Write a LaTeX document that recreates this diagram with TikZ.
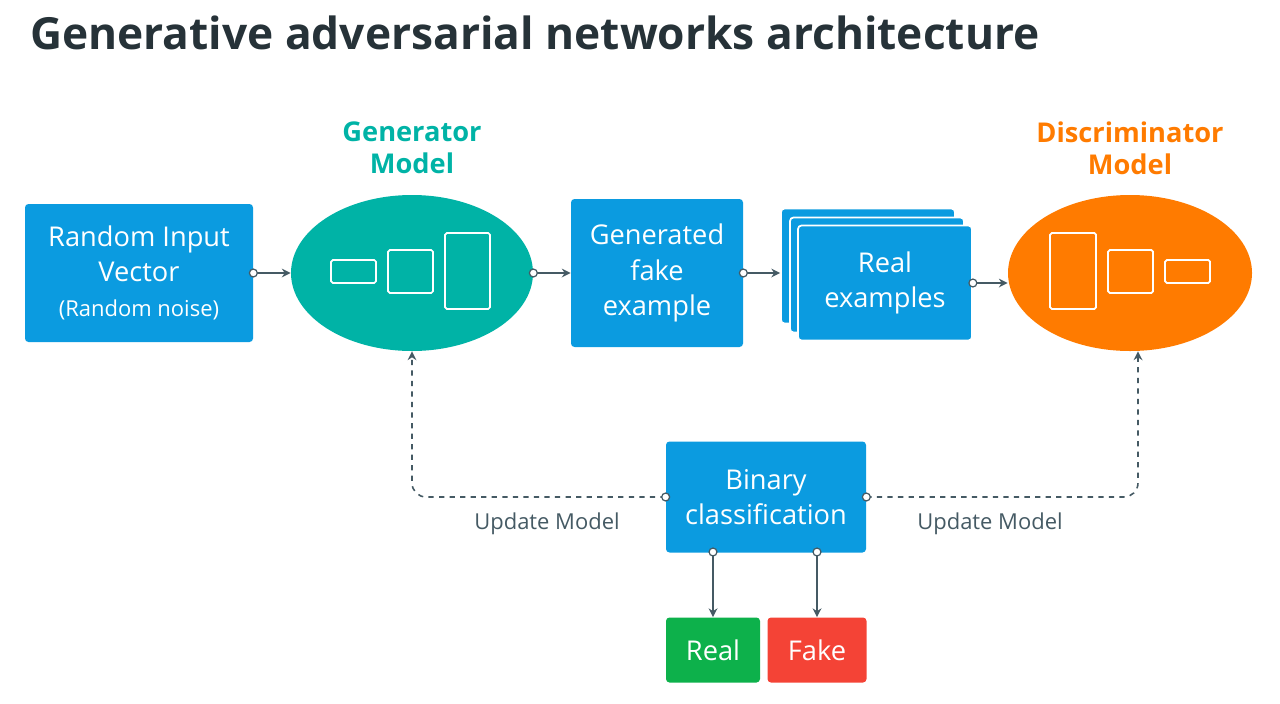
\documentclass[tikz,border=0pt]{standalone}
\usepackage{fontspec}
\setmainfont{Open Sans}
\usetikzlibrary{shapes.geometric,arrows.meta}
\definecolor{bl}{HTML}{0B9BE0}
\definecolor{tl}{HTML}{00B3A6}
\definecolor{og}{HTML}{FF7B00}
\definecolor{dk}{HTML}{263238}
\definecolor{ln}{HTML}{455A64}
\definecolor{gr}{HTML}{0DB14B}
\definecolor{rd}{HTML}{F44336}
\begin{document}
\begin{tikzpicture}[x=0.02cm,y=-0.02cm,
 box/.style={fill=bl,rounded corners=2pt,text=white,align=center,font=\fontsize{15.5}{20}\selectfont},
 ir/.style={draw=white,line width=1pt,rounded corners=1pt},
 con/.style={draw=ln,line width=0.9pt,-{Stealth[length=5pt,width=5pt]}},
 dot/.style={circle,draw=ln,fill=white,line width=0.7pt,inner sep=0pt,minimum size=4.5pt},
 lab/.style={font=\bfseries\fontsize{15.5}{18}\selectfont,align=center}]
\useasboundingbox (0,0) rectangle (1280,703);
\node[anchor=west,text=dk,font=\bfseries\fontsize{25.2}{30}\selectfont] (title) at (24,33) {Generative adversarial networks architecture};
% random
\node[box,minimum width=228*0.02cm,minimum height=138*0.02cm] (rin) at (139,273) {Random Input\\Vector\\{\fontsize{12.5}{16}\selectfont(Random noise)}};
% generator
\node[ellipse,fill=tl,minimum width=242*0.02cm,minimum height=156*0.02cm] (gen) at (412,273) {};
\draw[ir] (331,260) rectangle (376,283);
\draw[ir] (388,250) rectangle (433,293);
\draw[ir] (445,233) rectangle (490,309);
\node[lab,text=tl] (genl) at (412,148) {Generator\\Model};
% fake
\node[box,minimum width=172*0.02cm,minimum height=148*0.02cm] (fake) at (657,273) {Generated\\fake\\example};
% real stack
\node[box,draw=white,line width=1pt,minimum width=174*0.02cm,minimum height=115*0.02cm] (r3) at (868,266) {};
\node[box,draw=white,line width=1pt,minimum width=174*0.02cm,minimum height=115*0.02cm] (r2) at (877,275) {};
\node[box,draw=white,line width=1pt,minimum width=174*0.02cm,minimum height=115*0.02cm] (real) at (885,283) {Real\\examples};
% discriminator
\node[ellipse,fill=og,minimum width=244*0.02cm,minimum height=156*0.02cm] (dis) at (1130,273) {};
\draw[ir] (1050,233) rectangle (1096,309);
\draw[ir] (1108,250) rectangle (1153,293);
\draw[ir] (1165,260) rectangle (1210,283);
\node[lab,text=og] (disl) at (1130,148) {Discriminator\\Model};
% binary
\node[box,minimum width=200*0.02cm,minimum height=111*0.02cm] (bin) at (766,497) {Binary\\classification};
\node[box,fill=gr,minimum width=94*0.02cm,minimum height=65*0.02cm] (rl) at (713,650) {Real};
\node[box,fill=rd,minimum width=99*0.02cm,minimum height=65*0.02cm] (fk) at (817,650) {Fake};
% connectors
\draw[con] (rin.east) -- (gen.west);
\draw[con] (gen.east) -- (fake.west);
\draw[con] (fake.east) -- (fake.east -| r3.west);
\draw[con] (real.east) -- (dis.west |- real.east);
\draw[con,dashed,rounded corners=8pt] (bin.west) -| (gen.south);
\draw[con,dashed,rounded corners=8pt] (bin.east) -| ([xshift=8*0.02cm]dis.south);
\draw[con] (713,552) -- (rl.north);
\draw[con] (817,552) -- (fk.north);
\foreach \p in {(rin.east),(gen.east),(fake.east),(real.east),(bin.west),(bin.east),(713,552),(817,552)} \node[dot] at \p {};
\node[text=ln,font=\fontsize{12.5}{15}\selectfont] (u1) at (547,524) {Update Model};
\node[text=ln,font=\fontsize{12.5}{15}\selectfont] (u2) at (990,524) {Update Model};
\end{tikzpicture}
\end{document}
